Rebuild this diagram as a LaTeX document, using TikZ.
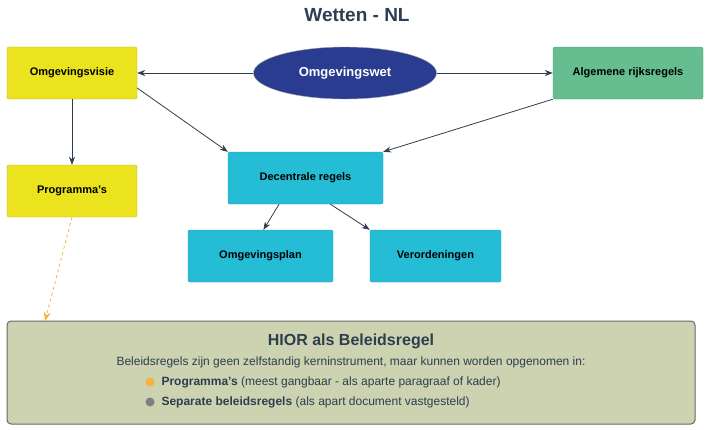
\documentclass[tikz,border=0pt]{standalone}
\usepackage{fontspec}
\setmainfont{Liberation Sans}
\usetikzlibrary{shapes.geometric, arrows.meta, positioning, calc}
\definecolor{visieyellow}{HTML}{EAE31E}
\definecolor{wetblue}{HTML}{2A3C8F}
\definecolor{rijksgreen}{HTML}{66BD8F}
\definecolor{regelcyan}{HTML}{25BCD6}
\definecolor{hiorbg}{HTML}{CDD3B0}
\definecolor{darktext}{HTML}{2C3E50}
\definecolor{dotorange}{HTML}{F5B342}
\tikzset{
  box/.style={draw=#1!80!black, fill=#1, rounded corners=2pt, minimum height=52pt,
    font=\fontsize{11}{13}\selectfont\bfseries, text=black},
  link/.style={-{Stealth[length=8pt,width=6pt]}, thick, draw=darktext},
}
\begin{document}
\begin{tikzpicture}[x=1pt,y=-1pt]
\useasboundingbox (0,0) rectangle (714,429);
% Title
\node[font=\fontsize{19}{22}\selectfont\bfseries, text=darktext] (title) at (357,15) {Wetten - NL};

% Top row
\node[draw=gray!70, fill=wetblue, ellipse, minimum width=183pt, minimum height=52pt,
  text=white, font=\fontsize{13}{15}\selectfont\bfseries] (wet) at (345,73) {Omgevingswet};
\node[box=visieyellow, minimum width=130pt] (visie) at (72,73) {Omgevingsvisie};
\node[box=rijksgreen, minimum width=150pt] (rijks) at (628,73) {Algemene rijksregels};

% Middle and lower rows
\node[box=visieyellow, minimum width=130pt] (prog) at (72,191) {Programma's};
\node[box=regelcyan, minimum width=155pt] (decen) at (305.5,178) {Decentrale regels};
\node[box=regelcyan, minimum width=145pt] (plan) at (260.5,256) {Omgevingsplan};
\node[box=regelcyan, minimum width=131pt] (veror) at (435.5,256) {Verordeningen};

% Connectors
\draw[link] (wet.west) -- (visie.east);
\draw[link] (wet.east) -- (rijks.west);
\draw[link] (visie.south) -- (prog.north);
\draw[link] ($(visie.east)+(0,15)$) -- (decen.north west);
\draw[link] (rijks.south west) -- (decen.north east);
\draw[link] ($(decen.south west)!0.33!(decen.south east)$) -- ($(plan.north west)!0.52!(plan.north east)$);
\draw[link] ($(decen.south west)!0.66!(decen.south east)$) -- (veror.north west);

% HIOR box
\node[draw=gray!80!black, fill=hiorbg, rounded corners=4pt, line width=1pt,
  minimum width=688pt, minimum height=103pt] (hior) at (351,372.5) {};
\node[font=\fontsize{16}{19}\selectfont\bfseries, text=darktext] (hiortitle) at (351,341) {HIOR als Beleidsregel};
\node[font=\fontsize{12}{14}\selectfont, text=darktext] (hiorline) at (351,362) {Beleidsregels zijn geen zelfstandig kerninstrument, maar kunnen worden opgenomen in:};
\node[font=\fontsize{12}{14}\selectfont, text=darktext, anchor=west] (item1) at (158,382) {\textbf{Programma's} (meest gangbaar - als aparte paragraaf of kader)};
\node[font=\fontsize{12}{14}\selectfont, text=darktext, anchor=west] (item2) at (158,402) {\textbf{Separate beleidsregels} (als apart document vastgesteld)};
\fill[dotorange] (150,382) circle (4.5pt);
\fill[gray] (150,402) circle (4.5pt);

\coordinate (hiortop) at (45,321);
\draw[-{Stealth[length=9pt,width=7pt]}, dashed, thick, draw=dotorange] (prog.south) -- (hiortop);
\end{tikzpicture}
\end{document}
